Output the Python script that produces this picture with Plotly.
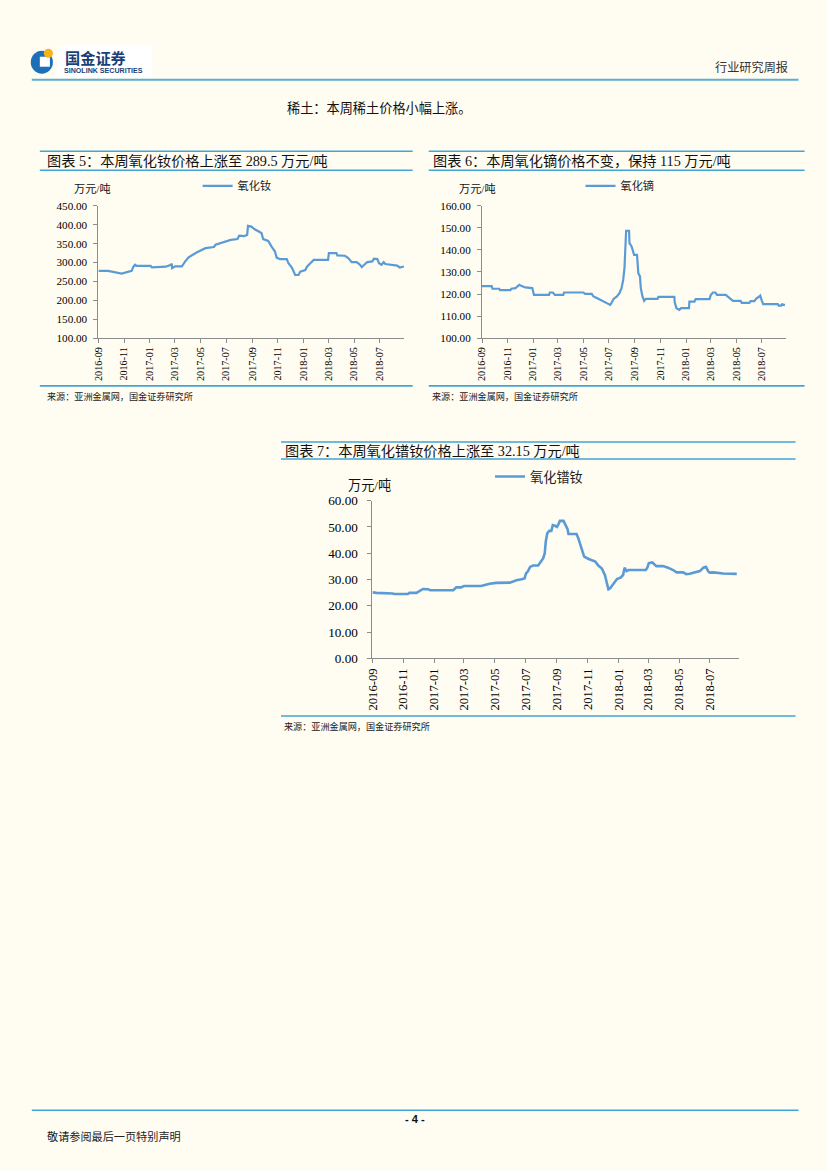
import plotly.graph_objects as go

# page is 827x1170; the figure sits inside the default 8px body margin
PAGE_W, PAGE_H = 827, 1170
OFF = 8
W, H = PAGE_W - 2 * OFF, PAGE_H - 2 * OFF
# small correction so the photographed page lines up with the target layout
S, T = 0.9865, 7.5

# ---------------- data ----------------
nd_dates = ["2016-09-01","2016-09-24","2016-10-26","2016-10-30","2016-11-11","2016-11-19","2016-11-23","2016-11-27",
            "2016-12-01","2017-01-03","2017-01-06","2017-01-15","2017-02-08","2017-02-20","2017-02-22","2017-02-23",
            "2017-03-02","2017-03-18","2017-03-22","2017-03-26","2017-04-03","2017-04-11","2017-04-23","2017-05-13",
            "2017-05-25","2017-06-02","2017-06-06","2017-06-18","2017-06-30","2017-07-12","2017-07-28","2017-08-01",
            "2017-08-13","2017-08-20","2017-08-22","2017-08-30","2017-09-07","2017-09-15","2017-09-23","2017-09-27",
            "2017-10-09","2017-10-17","2017-10-25","2017-10-29","2017-11-06","2017-11-22","2017-11-26","2017-12-04",
            "2017-12-10","2017-12-12","2017-12-20","2017-12-24","2018-01-05","2018-01-09","2018-01-17","2018-01-25",
            "2018-02-28","2018-03-02","2018-03-20","2018-03-22","2018-04-09","2018-04-17","2018-04-25","2018-05-07",
            "2018-05-15","2018-05-19","2018-05-25","2018-06-01","2018-06-13","2018-06-17","2018-06-25","2018-06-29",
            "2018-07-05","2018-07-10","2018-07-14","2018-07-30","2018-08-11","2018-08-17","2018-08-27"]
nd_values = [278,278,271,272,275,278,289,294,
             291,291,287,288,289,294,297,285,
             290,290,298,303,314,320,327,338,
             341,341,347,351,356,360,362,371,
             370,373,397,395,388,382,378,362,
             357,342,329,313,309,309,298,287,
             272,267,267,276,280,289,298,307,
             307,325,325,319,318,312,301,301,
             294,288,294,301,303,310,309,298,
             294,301,296,294,292,287,289.5]

dy_dates = ["2016-09-01","2016-09-24","2016-09-26","2016-10-12","2016-10-14","2016-11-08","2016-11-10","2016-11-20",
            "2016-11-24","2016-11-29","2016-12-05","2016-12-13","2016-12-30","2017-01-03","2017-02-08","2017-02-10",
            "2017-02-17","2017-02-22","2017-03-14","2017-03-16","2017-05-01","2017-05-05","2017-05-21","2017-05-25",
            "2017-06-02","2017-06-10","2017-06-18","2017-06-26","2017-07-04","2017-07-08","2017-07-12","2017-07-20",
            "2017-07-26","2017-07-31","2017-08-04","2017-08-07","2017-08-10","2017-08-11","2017-08-18","2017-08-19",
            "2017-08-24","2017-08-28","2017-08-30","2017-09-06","2017-09-09","2017-09-13","2017-09-15","2017-09-19",
            "2017-09-23","2017-09-27","2017-10-25","2017-10-27","2017-12-04","2017-12-05","2017-12-09","2017-12-16",
            "2017-12-20","2018-01-08","2018-01-09","2018-01-21","2018-01-24","2018-02-26","2018-03-01","2018-03-06",
            "2018-03-12","2018-03-16","2018-04-06","2018-04-10","2018-04-18","2018-04-23","2018-05-11","2018-05-14",
            "2018-06-01","2018-06-04","2018-06-13","2018-06-17","2018-06-25","2018-06-27","2018-07-01","2018-07-04",
            "2018-08-08","2018-08-10","2018-08-16","2018-08-18","2018-08-25"]
dy_values = [123.6,123.6,122.4,122.4,121.8,121.8,122.4,122.7,
             123.4,124.2,123.6,123.0,122.7,119.6,119.6,120.7,
             120.7,119.6,119.6,120.7,120.7,120.1,120.1,118.9,
             118.2,117.4,116.6,115.7,115.1,116.3,117.8,118.9,
             120.4,122.7,126.5,131.7,142.3,148.7,148.7,143.1,
             141.6,139.3,137.8,137.8,129.5,128.0,122.7,118.9,
             116.9,117.8,117.8,118.7,118.7,116.3,113.6,112.8,
             113.6,113.6,116.6,116.6,117.7,117.7,119.6,120.7,
             120.7,119.6,119.6,118.9,117.8,116.9,116.9,116.0,
             116.0,116.8,116.8,117.8,118.9,119.3,116.9,115.4,
             115.4,114.8,114.8,115.4,115.0]

prnd_dates = ["2016-09-01","2016-09-09","2016-10-11","2016-10-14","2016-11-10","2016-11-13","2016-11-27","2016-12-04",
              "2016-12-10","2016-12-20","2016-12-24","2017-02-08","2017-02-14","2017-02-23","2017-03-01","2017-04-04",
              "2017-04-11","2017-04-21","2017-05-04","2017-05-14","2017-05-31","2017-06-06","2017-06-13","2017-06-23",
              "2017-06-29","2017-07-02","2017-07-06","2017-07-10","2017-07-16","2017-07-26","2017-07-29","2017-08-05",
              "2017-08-08","2017-08-10","2017-08-13","2017-08-17","2017-08-21","2017-08-24","2017-08-28","2017-09-01",
              "2017-09-04","2017-09-07","2017-09-14","2017-09-17","2017-09-22","2017-09-24","2017-10-10","2017-10-13",
              "2017-10-18","2017-10-22","2017-10-25","2017-11-03","2017-11-09","2017-11-16","2017-11-22","2017-11-29",
              "2017-12-05","2017-12-09","2017-12-12","2017-12-15","2017-12-22","2017-12-29","2018-01-05","2018-01-10",
              "2018-01-13","2018-01-17","2018-01-21","2018-02-24","2018-02-27","2018-03-02","2018-03-09","2018-03-17",
              "2018-03-30","2018-04-09","2018-04-19","2018-04-26","2018-05-09","2018-05-15","2018-05-22","2018-06-01",
              "2018-06-11","2018-06-18","2018-06-23","2018-06-28","2018-07-01","2018-07-08","2018-07-14","2018-07-27",
              "2018-08-23"]
prnd_values = [25.1,24.9,24.7,24.5,24.5,24.9,24.9,25.6,
               26.4,26.3,25.9,25.9,27.0,27.0,27.5,27.5,
               27.9,28.4,28.7,28.8,28.8,29.2,29.7,30.1,
               30.4,32.3,33.2,34.8,35.3,35.3,36.2,38.1,
               40.0,44.4,47.6,48.5,48.5,50.7,50.5,50.0,
               51.0,52.3,52.3,51.0,49.2,47.3,47.3,45.9,
               43.1,41.2,38.7,37.8,37.4,36.8,35.3,34.2,
               31.7,28.5,26.3,26.6,28.5,30.2,30.7,31.7,
               34.5,33.2,33.6,33.6,34.5,36.2,36.5,35.1,
               35.1,34.5,33.6,32.7,32.7,32.0,32.2,32.7,
               33.2,34.5,34.8,33.0,32.6,32.7,32.5,32.3,
               32.15]

series_names = ["氧化钕", "氧化镝", "氧化镨钕"]
titles = ["图表 5：本周氧化钕价格上涨至 289.5 万元/吨",
          "图表 6：本周氧化镝价格不变，保持 115 万元/吨",
          "图表 7：本周氧化镨钕价格上涨至 32.15 万元/吨"]
unit_label = "万元/吨"
source_text = "来源：亚洲金属网，国金证券研究所"
y_ranges = [[100, 450], [100, 160], [0, 60]]
y_dticks = [50, 10, 10]
x_range = ["2016-09-01", "2018-08-28"]

# ---------------- styling ----------------
BG = "#FFFCF2"
LINE_BLUE = "#5B9BD5"
RULE = "#42A5D3"
AXIS = "#8C8C8C"
SERIF = "Liberation Serif, Noto Sans CJK SC, serif"
CJK = "Noto Sans CJK SC, sans-serif"

def fpx(v):
    return v / S - T - OFF

def PX(x):
    return fpx(x) / W

def PY(y):
    return 1 - fpx(y) / H

def fs(size):
    return round(size / S, 2)

fig = go.Figure()

# chart boxes (target pixel coords): x0, x1, ytop, ybottom
plot_boxes = [(98.3, 402.7, 206, 338.3), (480, 782.7, 206, 338.3), (371, 736, 500.7, 658.3)]
tick_sizes = [11, 11, 13]
xtick_sizes = [10, 10, 12.5]
standoffs = [4, 4, 7]
line_widths = [2.2, 2.2, 2.6]
all_dates = [nd_dates, dy_dates, prnd_dates]
all_vals = [nd_values, dy_values, prnd_values]
legend_pos = [(197, 186, 11), (578, 186, 11), (488, 477, 13)]

for i in range(3):
    sfx = "" if i == 0 else str(i + 1)
    lg = "legend" if i == 0 else "legend" + str(i + 1)
    fig.add_trace(go.Scatter(x=all_dates[i], y=all_vals[i], mode="lines", name=series_names[i],
                             line=dict(color=LINE_BLUE, width=line_widths[i]),
                             xaxis="x" + sfx, yaxis="y" + sfx, legend=lg, showlegend=True))
    x0, x1, yt, yb = plot_boxes[i]
    fig.update_layout(**{
        "xaxis" + sfx: dict(domain=[PX(x0), PX(x1)], anchor="y" + sfx, type="date", range=x_range,
                            tickformat="%Y-%m", dtick="M2", tick0="2016-09-01", tickangle=-90,
                            showgrid=False, zeroline=False, showline=True, linecolor=AXIS, linewidth=1,
                            ticks="outside", ticklen=4, tickcolor=AXIS,
                            tickfont=dict(family=SERIF, size=fs(xtick_sizes[i]), color="#000")),
        "yaxis" + sfx: dict(domain=[PY(yb), PY(yt)], anchor="x" + sfx, range=y_ranges[i], dtick=y_dticks[i],
                            tickformat=".2f", showgrid=False, zeroline=False, showline=True, linecolor=AXIS,
                            linewidth=1, ticks="outside", ticklen=4, tickcolor=AXIS,
                            ticklabelstandoff=standoffs[i],
                            tickfont=dict(family=SERIF, size=fs(tick_sizes[i]), color="#000")),
        lg: dict(x=PX(legend_pos[i][0]), y=PY(legend_pos[i][1]), xanchor="left", yanchor="middle",
                 bgcolor="rgba(0,0,0,0)", borderwidth=0,
                 font=dict(family=CJK, size=fs(legend_pos[i][2]), color="#222")),
    })

shapes = []
def hline(x0, x1, y, color=RULE, width=1.6):
    shapes.append(dict(type="line", xref="paper", yref="paper", x0=PX(x0), x1=PX(x1), y0=PY(y), y1=PY(y),
                       line=dict(color=color, width=width)))

# header / footer rules
hline(32, 795, 80, color="#5AAFD2", width=2)
hline(32, 795, 1110, color="#3EA6DA", width=1.5)
# chart frames
for (x0, x1, t1, t2, b) in [(40, 411, 151.5, 170.5, 386), (427, 801, 151.5, 170.5, 386), (280, 792, 442, 459, 716)]:
    hline(x0, x1, t1)
    hline(x0, x1, t2)
    hline(x0, x1, b)

# logo
shapes.append(dict(type="rect", xref="paper", yref="paper", x0=PX(57), x1=PX(152), y0=PY(78), y1=PY(46),
                   fillcolor="white", line=dict(width=0), layer="below"))
shapes.append(dict(type="circle", xref="paper", yref="paper", x0=PX(31), x1=PX(53), y0=PY(74), y1=PY(51),
                   fillcolor="#1D6FB8", line=dict(width=0)))
shapes.append(dict(type="rect", xref="paper", yref="paper", x0=PX(40), x1=PX(50), y0=PY(67), y1=PY(57),
                   fillcolor="white", line=dict(width=0)))
shapes.append(dict(type="circle", xref="paper", yref="paper", x0=PX(44), x1=PX(53), y0=PY(58), y1=PY(49),
                   fillcolor="#F5B319", line=dict(width=0)))

annotations = []
def text(x, y, s, size, xanchor="left", family=CJK, color="#111", bold=False):
    if bold:
        s = "<b>" + s + "</b>"
    annotations.append(dict(text=s, x=PX(x), y=PY(y), xref="paper", yref="paper", xanchor=xanchor,
                            yanchor="middle", showarrow=False, font=dict(family=family, size=fs(size), color=color)))

text(63, 57, "国金证券", 15, family=CJK, color="#1A3E78", bold=True)
text(62, 71, "SINOLINK SECURITIES", 7, family="Liberation Sans, Arial, sans-serif", color="#1A3E78", bold=True)
text(786, 67, "行业研究周报", 12, xanchor="right", color="#333")
text(378, 108, "稀土：本周稀土价格小幅上涨。", 13, xanchor="center", color="#111")

text(45, 161, titles[0], 14, family=SERIF)
text(429, 161, titles[1], 14, family=SERIF)
text(282, 451, titles[2], 14, family=SERIF)

text(72, 189, unit_label, 11, family=SERIF)
text(455, 189, unit_label, 11, family=SERIF)
text(345, 486, unit_label, 13, family=SERIF)

text(45, 396, source_text, 9, color="#222")
text(428, 396, source_text, 9, color="#222")
text(281, 726, source_text, 9, color="#222")

text(413, 1119, "- 4 -", 11, xanchor="center", family="Liberation Sans, Arial, sans-serif", color="#111", bold=True)
text(45, 1136, "敬请参阅最后一页特别声明", 11, color="#222")

fig.update_layout(width=W, height=H, margin=dict(l=0, r=0, t=0, b=0),
                  paper_bgcolor=BG, plot_bgcolor=BG, shapes=shapes, annotations=annotations,
                  hovermode=False)

fig.write_html("out.html", config={"displayModeBar": False},
               post_script="document.body.style.background='%s';" % BG)
